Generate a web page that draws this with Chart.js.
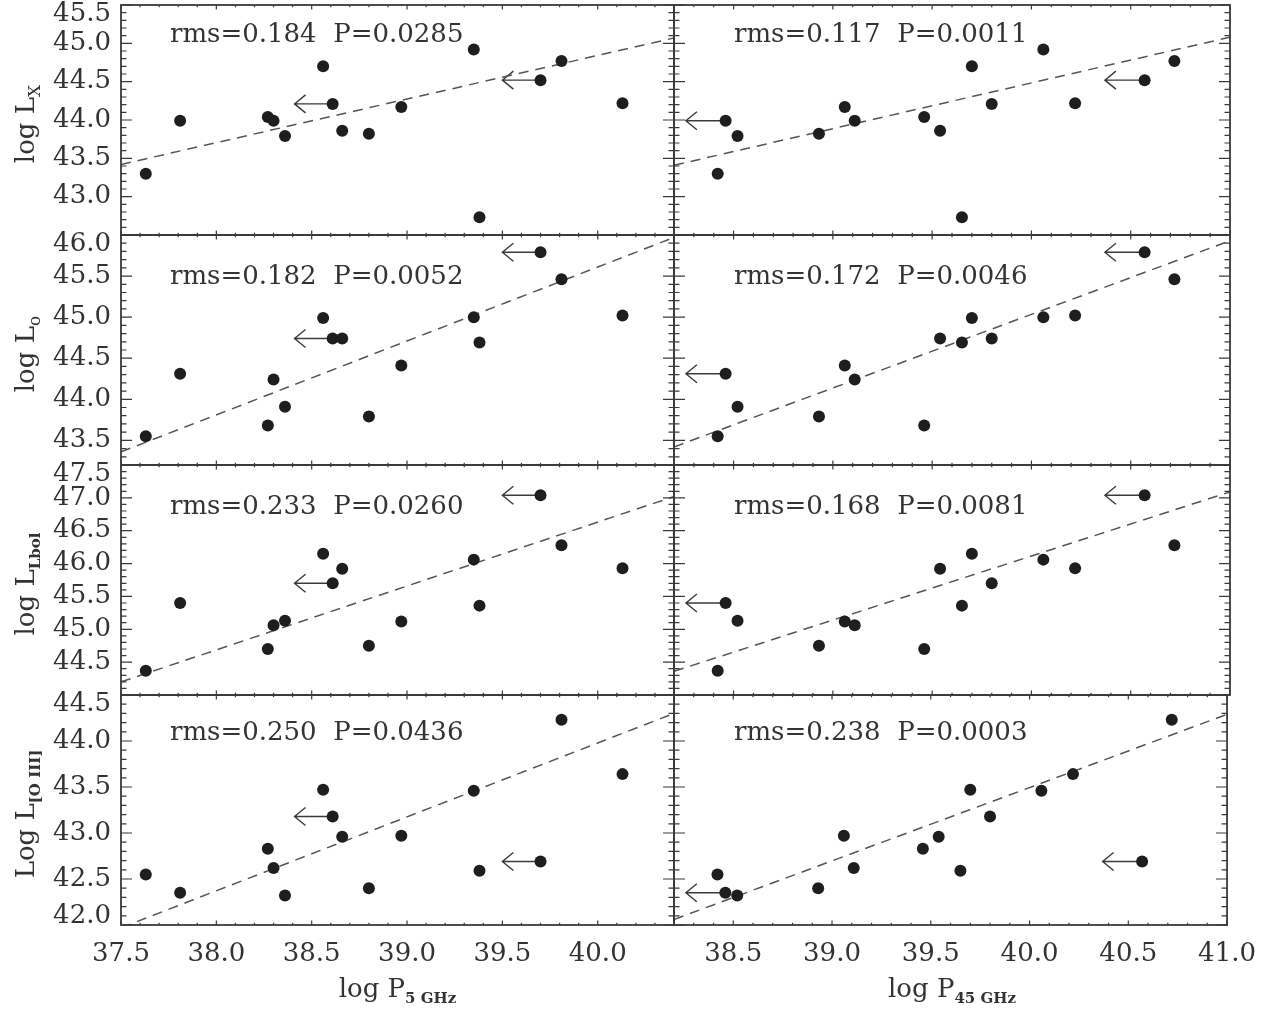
<!DOCTYPE html>
<html><head><meta charset="utf-8">
<script src="https://cdn.jsdelivr.net/npm/chart.js@4.4.1/dist/chart.umd.min.js"></script>
<style>
html,body{margin:0;padding:0;background:#fff;}
body{width:1276px;height:1010px;position:relative;overflow:hidden;font-family:"DejaVu Serif",serif;color:#333;}
canvas{position:absolute;}
.t{position:absolute;white-space:pre;font-size:26px;line-height:26px;color:#333;}
.yt{position:absolute;white-space:nowrap;font-size:26px;line-height:26px;color:#333;transform:translate(-50%,-50%) rotate(-90deg);}
.xt{position:absolute;white-space:nowrap;font-size:26px;line-height:26px;color:#333;transform:translate(-50%,-50%);}
sub{font-size:17px;vertical-align:-6px;line-height:0;}
sub.s{font-size:15px;font-weight:bold;}
</style></head><body>
<script>
// ---------------- DATA ----------------
// 15 sources, same order in every array
const logP5   = [37.63, 37.81, 38.27, 38.30, 38.36, 38.56, 38.61, 38.66, 38.80, 38.97, 39.35, 39.38, 39.70, 39.81, 40.13];
const logP45  = [38.42, 38.46, 39.46, 39.11, 38.52, 39.70, 39.80, 39.54, 38.93, 39.06, 40.06, 39.65, 40.57, 40.72, 40.22];
const limit5  = [0,0,0,0,0,0,1,0,0,0,0,0,1,0,0];   // upper limits in P5
const limit45 = [0,1,0,0,0,0,0,0,0,0,0,0,1,0,0];   // upper limits in P45
const logLX   = [43.30, 43.99, 44.04, 43.99, 43.79, 44.70, 44.21, 43.86, 43.82, 44.17, 44.92, 42.73, 44.52, 44.77, 44.22];
const logLo   = [43.55, 44.31, 43.68, 44.24, 43.91, 44.99, 44.74, 44.74, 43.79, 44.41, 45.00, 44.69, 45.79, 45.46, 45.02];
const logLbol = [44.37, 45.40, 44.70, 45.06, 45.13, 46.15, 45.70, 45.92, 44.75, 45.12, 46.06, 45.36, 47.04, 46.28, 45.93];
const logLO3  = [42.55, 42.35, 42.83, 42.62, 42.32, 43.47, 43.18, 42.96, 42.40, 42.97, 43.46, 42.59, 42.69, 44.23, 43.64];

// dashed fit lines: end points (x at panel edges, y)
const fitX5 = [37.5, 40.4];
const fitX45 = [38.2, 41.0];
const fitLX5 = [43.42, 45.07],  fitLX45 = [43.41, 45.08];
const fitLo5 = [43.36, 45.97],  fitLo45 = [43.42, 45.93];
const fitLbol5 = [44.20, 47.02], fitLbol45 = [44.36, 47.09];
const fitLO3_5 = [41.97, 44.30], fitLO3_45 = [42.06, 44.29];

// statistics text
const stats5  = ['rms=0.184  P=0.0285', 'rms=0.182  P=0.0052', 'rms=0.233  P=0.0260', 'rms=0.250  P=0.0436'];
const stats45 = ['rms=0.117  P=0.0011', 'rms=0.172  P=0.0046', 'rms=0.168  P=0.0081', 'rms=0.238  P=0.0003'];

// tick labels
const xTicks5  = [37.5, 38.0, 38.5, 39.0, 39.5, 40.0];
const xTicks45 = [38.5, 39.0, 39.5, 40.0, 40.5, 41.0];
const yTicksLX   = [43.0, 43.5, 44.0, 44.5, 45.0, 45.5];
const yTicksLo   = [43.5, 44.0, 44.5, 45.0, 45.5, 46.0];
const yTicksLbol = [44.5, 45.0, 45.5, 46.0, 46.5, 47.0, 47.5];
const yTicksLO3  = [42.0, 42.5, 43.0, 43.5, 44.0, 44.5];

// axis ranges
const xRange5 = [37.5, 40.4], xRange45 = [38.2, 41.0];
const yRangeLX = [42.5, 45.5], yRangeLo = [43.2, 46.0], yRangeLbol = [44.0, 47.5], yRangeLO3 = [42.0, 44.5];

// ---------------- LAYOUT ----------------
const FX = [121, 674, 1230];
const FY = [5, 235, 465, 695, 925];
const PADL = 121, PADT = 30, PADR = 40, PADB = 90;
const ARROW_DEX = 0.2;
const FONT = 'DejaVu Serif';
const INK = '#333';

const cols = [
  {x: logP5, lim: limit5, ticks: xTicks5, range: xRange5, fitX: fitX5, stats: stats5},
  {x: logP45, lim: limit45, ticks: xTicks45, range: xRange45, fitX: fitX45, stats: stats45}
];
const rows = [
  {y: logLX, ticks: yTicksLX, range: yRangeLX, fits: [fitLX5, fitLX45], ty: 33},
  {y: logLo, ticks: yTicksLo, range: yRangeLo, fits: [fitLo5, fitLo45], ty: 275},
  {y: logLbol, ticks: yTicksLbol, range: yRangeLbol, fits: [fitLbol5, fitLbol45], ty: 505},
  {y: logLO3, ticks: yTicksLO3, range: yRangeLO3, fits: [fitLO3_5, fitLO3_45], ty: 731}
];

const framePlugin = {
  id: 'frame',
  beforeDatasetsDraw(chart, args, opts) {
    const {ctx, scales: {x, y}} = chart;
    const pts = chart.data.datasets[0].data;
    ctx.save();
    ctx.strokeStyle = '#3a3a3a';
    ctx.lineWidth = 1.4;
    pts.forEach((d, i) => {
      if (!opts.lim[i]) return;
      const x0 = x.getPixelForValue(d.x), y0 = y.getPixelForValue(d.y);
      const x1 = x.getPixelForValue(d.x - ARROW_DEX);
      ctx.beginPath();
      ctx.moveTo(x0, y0); ctx.lineTo(x1, y0);
      ctx.moveTo(x1 + 11, y0 - 9); ctx.lineTo(x1, y0); ctx.lineTo(x1 + 11, y0 + 9);
      ctx.stroke();
    });
    ctx.restore();
  },
  afterDatasetsDraw(chart) {
    const {ctx, chartArea: a, scales: {x, y}} = chart;
    ctx.save();
    ctx.strokeStyle = '#3a3a3a';
    ctx.lineWidth = 1.2;
    ctx.beginPath();
    for (let k = Math.ceil(x.min * 10 - 1e-6); k <= Math.floor(x.max * 10 + 1e-6); k++) {
      const px = x.getPixelForValue(k / 10);
      const len = (k % 5 === 0) ? 4.6 : 2.3;
      ctx.moveTo(px, a.bottom); ctx.lineTo(px, a.bottom - len);
      ctx.moveTo(px, a.top); ctx.lineTo(px, a.top + len);
    }
    for (let k = Math.ceil(y.min * 10 - 1e-6); k <= Math.floor(y.max * 10 + 1e-6); k++) {
      const py = y.getPixelForValue(k / 10);
      const len = (k % 5 === 0) ? 11 : 5.5;
      ctx.moveTo(a.left, py); ctx.lineTo(a.left + len, py);
      ctx.moveTo(a.right, py); ctx.lineTo(a.right - len, py);
    }
    ctx.stroke();
    ctx.lineWidth = 1.8;
    ctx.strokeRect(a.left, a.top, a.right - a.left, a.bottom - a.top);
    ctx.restore();
  }
};

rows.forEach((row, r) => {
  cols.forEach((col, c) => {
    const fw = FX[c + 1] - FX[c], fh = FY[r + 1] - FY[r];
    const cv = document.createElement('canvas');
    const W = fw + PADL + PADR, H = fh + PADT + PADB;
    cv.width = W; cv.height = H;
    cv.style.left = (FX[c] - PADL) + 'px';
    cv.style.top = (FY[r] - PADT) + 'px';
    cv.style.width = W + 'px'; cv.style.height = H + 'px';
    document.body.appendChild(cv);
    const pts = col.x.map((xv, i) => ({x: xv, y: row.y[i]}));
    const fit = row.fits[c];
    const line = [{x: col.fitX[0], y: fit[0]}, {x: col.fitX[1], y: fit[1]}];
    const yMin = row.range[0], yMax = row.range[1];
    new Chart(cv, {
      type: 'scatter',
      data: {datasets: [
        {data: pts, pointRadius: 6, pointHoverRadius: 6, backgroundColor: '#1e1e1e', borderWidth: 0},
        {data: line, showLine: true, pointRadius: 0, borderColor: '#555', borderWidth: 1.5, borderDash: [10, 7], fill: false}
      ]},
      options: {
        responsive: false, animation: false, devicePixelRatio: 1,
        layout: {padding: {left: 0, top: PADT, right: PADR, bottom: 0}},
        plugins: {legend: {display: false}, tooltip: {enabled: false}, frame: {lim: col.lim}},
        scales: {
          x: {
            type: 'linear', min: col.range[0], max: col.range[1],
            grid: {display: false, drawTicks: false}, border: {display: false},
            afterBuildTicks: s => { s.ticks = col.ticks.map(v => ({value: v})); },
            afterFit: s => { s.height = PADB; },
            ticks: {display: r === 3, autoSkip: false, maxRotation: 0, padding: 14, color: INK,
              font: {family: FONT, size: 26},
              callback: v => Number(v).toFixed(1)}
          },
          y: {
            type: 'linear', min: yMin, max: yMax,
            grid: {display: false, drawTicks: false}, border: {display: false},
            afterBuildTicks: s => { s.ticks = row.ticks.map(v => ({value: v})); },
            afterFit: s => { s.width = PADL; },
            ticks: {display: c === 0, autoSkip: false, padding: 10, color: INK,
              font: {family: FONT, size: 26, lineHeight: 0.7},
              callback: v => {
                const t = Number(v).toFixed(1);
                if (Math.abs(v - yMax) < 1e-6) return ['', t];
                if (Math.abs(v - yMin) < 1e-6) return [t, ''];
                return t;
              }}
          }
        }
      },
      plugins: [framePlugin]
    });
    const st = document.createElement('div');
    st.className = 't';
    st.textContent = col.stats[r];
    st.style.left = (c === 0 ? 170 : 734) + 'px';
    st.style.top = (row.ty - 13) + 'px';
    document.body.appendChild(st);
  });
});

// axis titles
const yTitles = ['log L<sub>X</sub>', 'log L<sub>o</sub>', 'log L<sub class="s">Lbol</sub>', 'Log L<sub class="s">[O III]</sub>'];
yTitles.forEach((h, r) => {
  const d = document.createElement('div');
  d.className = 'yt';
  d.innerHTML = h;
  d.style.left = '25px';
  d.style.top = ((FY[r] + FY[r + 1]) / 2 + 4) + 'px';
  document.body.appendChild(d);
});
const xTitles = ['log P<sub class="s">5 GHz</sub>', 'log P<sub class="s">45 GHz</sub>'];
xTitles.forEach((h, c) => {
  const d = document.createElement('div');
  d.className = 'xt';
  d.innerHTML = h;
  d.style.left = ((FX[c] + FX[c + 1]) / 2) + 'px';
  d.style.top = '988px';
  document.body.appendChild(d);
});
</script>
</body></html>
